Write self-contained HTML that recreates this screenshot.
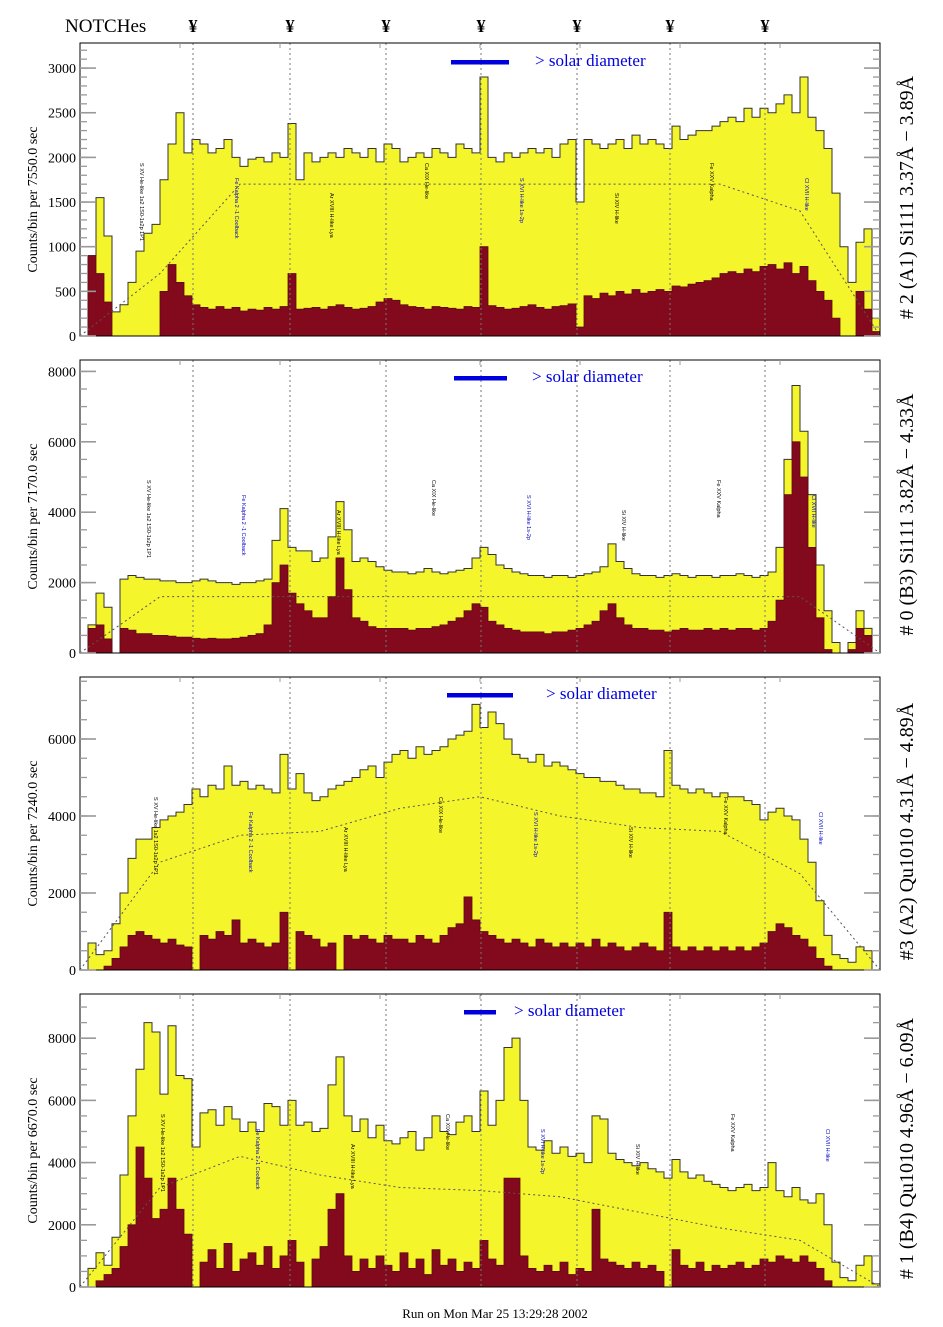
<!DOCTYPE html>
<html><head><meta charset="utf-8">
<style>
html,body{margin:0;padding:0;background:#fff;}
svg{display:block;font-family:"Liberation Serif",serif;}
</style></head>
<body>
<svg id="chart" width="943" height="1327" viewBox="0 0 943 1327" xmlns="http://www.w3.org/2000/svg">
<text x="65" y="32" font-size="19">NOTCHes</text>
<g id="notchMarks"></g>
<g id="panels"></g>
<text x="495" y="1318" font-size="13" text-anchor="middle">Run on Mon Mar 25 13:29:28 2002</text>
</svg>
<script>
// ---- data ----
const notchX = [193, 290, 386, 481, 577, 670, 765]; // notch positions
const p1Total = [0,900,1550,1120,270,350,600,950,1150,1250,1750,2150,2500,2050,2200,2150,2050,2100,2200,2000,1900,1980,2000,1950,2050,2000,2380,1750,2050,1950,2000,2050,2000,2100,2050,2000,2100,1950,2150,2100,1950,2000,2050,2000,2100,2050,2000,2150,2100,2050,2900,2000,1950,2050,2000,2050,2100,2050,2100,2000,2150,2200,1500,2200,2150,2100,2150,2200,2100,2250,2150,2200,2150,2100,2350,2200,2250,2300,2300,2350,2400,2450,2400,2550,2450,2550,2500,2600,2700,2500,2900,2450,2300,2100,1600,1000,600,1050,1200,200];
const p1Line = [0,900,700,380,0,0,0,0,0,0,500,800,600,450,350,320,300,330,300,320,280,300,290,320,300,330,700,300,310,320,300,330,350,320,300,310,330,380,420,400,350,330,320,300,330,320,310,300,330,320,1000,340,320,300,310,330,350,320,300,330,340,360,100,450,420,480,450,500,470,520,480,500,520,500,560,550,580,600,620,650,700,720,700,750,720,780,800,750,820,700,780,620,500,400,200,0,0,500,300,50];
const p2Total = [0,800,1700,1300,0,2100,2200,2150,2100,2100,2050,2050,2000,2000,2050,2100,2050,2000,2000,1950,2000,2000,2050,2100,3200,4100,3000,2900,2900,2600,2700,3300,4300,3500,2600,2700,2600,2450,2350,2300,2300,2250,2300,2400,2300,2250,2300,2350,2400,2700,3000,2800,2500,2400,2300,2250,2200,2200,2150,2200,2200,2150,2200,2250,2300,2450,3100,2600,2400,2250,2200,2200,2150,2200,2250,2200,2150,2200,2200,2150,2200,2200,2250,2200,2150,2200,2300,3000,5500,7600,6300,4500,2500,1200,300,0,300,1200,700,0];
const p2Line = [0,700,800,400,0,700,650,550,550,500,500,480,450,450,420,400,420,400,400,420,450,500,550,800,2000,2500,1700,1400,1200,1000,1000,1600,2700,1800,1000,900,750,700,700,700,700,650,700,700,750,800,900,1000,1200,1400,1300,900,800,700,650,600,600,600,550,600,600,650,700,800,900,1200,1400,1000,800,700,700,650,650,600,650,700,650,650,700,650,700,650,700,700,650,700,900,1500,4500,6000,5000,3000,1000,100,0,0,100,700,500,0];
const p3Total = [0,700,400,500,1200,2000,2900,3400,3400,3700,3900,4000,4100,4300,4700,4500,4800,4700,5300,4800,4900,4700,4800,4700,4600,5600,4700,5100,4600,4400,4500,4700,4800,4900,5000,5200,5300,5000,5400,5600,5700,5500,5800,5600,5700,5800,6000,6100,6200,6900,6300,6700,6400,6000,5600,5500,5400,5600,5300,5400,5300,5200,5100,5000,5000,4900,4900,4800,4700,4700,4600,4600,4500,5700,4800,4700,4600,4700,4600,4500,4600,4500,4500,4400,4300,3900,4100,4200,4000,3900,3400,2800,1800,900,400,300,200,600,500,0];
const p3Line = [0,0,0,100,300,600,900,1000,900,800,700,800,650,600,0,900,800,1000,900,1300,700,800,700,600,700,1500,0,1000,900,800,600,700,0,900,800,900,800,700,900,800,800,700,900,800,700,900,1100,1200,1900,1300,1000,900,800,700,800,700,600,800,700,600,700,600,700,600,800,600,700,600,500,600,700,600,500,1500,600,500,600,500,600,500,600,500,600,500,600,700,1000,1200,1100,900,800,600,300,100,0,0,0,0,0,0];
const p4Total = [0,600,1100,700,1600,3600,5500,7000,8500,8200,6200,8400,6800,6700,4500,5600,5700,5200,5800,5400,5000,5300,5000,5900,5800,5200,6000,5200,5300,5000,5100,6500,7400,5500,5000,5400,4800,5200,4700,4600,4800,5000,4400,4800,5500,5000,4900,5300,5500,5000,6300,5200,6000,7700,8000,6000,4500,4400,4700,4300,4500,4200,4300,4000,5500,5400,4300,4100,4000,3900,4000,3800,3700,3500,4100,3700,3500,3600,3400,3300,3200,3100,3200,3300,3100,3200,4000,3100,2900,3200,2800,2700,3000,2000,800,300,200,700,1000,100];
const p4Line = [0,0,200,400,600,1300,2000,4500,3500,2200,2500,3500,2500,1700,0,800,1200,600,1400,500,900,1100,700,1300,600,1000,1500,800,0,900,1300,2500,3000,1000,500,900,600,1000,700,500,1100,600,900,400,1200,700,900,500,800,600,1500,900,700,3500,3500,1000,600,500,700,500,800,400,600,500,2500,900,800,700,600,800,600,700,500,0,1200,700,600,800,500,700,600,700,800,600,700,900,800,1000,900,800,1000,800,600,200,0,0,0,0,0,0];
const p1Smooth = [0,700,1700,1700,1700,1700,1700,1700,1700,1400,0];
const p2Smooth = [0,1600,1600,1600,1600,1600,1600,1600,1600,1600,0];
const p3Smooth = [0,2800,3500,3600,4200,4500,4000,3700,3600,2500,0];
const p4Smooth = [0,3200,4200,3600,3200,3100,2900,2400,1900,1500,0];
const p1Ticks = [0,500,1000,1500,2000,2500,3000];
const p2Ticks = [0,2000,4000,6000,8000];
const p3Ticks = [0,2000,4000,6000];
const p4Ticks = [0,2000,4000,6000,8000];
const yTitles = ["Counts/bin per   7550.0 sec","Counts/bin per   7170.0 sec","Counts/bin per   7240.0 sec","Counts/bin per   6670.0 sec"];
const rTitles = ["# 2 (A1) Si111  3.37Å − 3.89Å","# 0 (B3) Si111  3.82Å − 4.33Å","#3 (A2) Qu1010  4.31Å − 4.89Å","# 1 (B4) Qu1010 4.96Å − 6.09Å"];
const lineLabels = ["S XV He-like 1s2 1S0-1s2p 1P1","Fe Kalpha 2 -1 Coolback","Ar XVIII H-like Lya","Ca XIX He-like","S XVI H-like 1s-2p","Si XIV H-like","Fe XXV Kalpha","Cl XVII H-like"];

// ---- layout ----
const NS="http://www.w3.org/2000/svg";
const X0=80, X1=880, NB=100;
const panels=[
 {top:43,bot:336,ymax:3281,tot:p1Total,ln:p1Line,sm:p1Smooth,ticks:p1Ticks,minor:100,bar:[451,509,62],txt:535},
 {top:360,bot:653,ymax:8324,tot:p2Total,ln:p2Line,sm:p2Smooth,ticks:p2Ticks,minor:500,bar:[454,507,378],txt:532},
 {top:677,bot:970,ymax:7610,tot:p3Total,ln:p3Line,sm:p3Smooth,ticks:p3Ticks,minor:500,bar:[447,513,695],txt:546},
 {top:994,bot:1287,ymax:9420,tot:p4Total,ln:p4Line,sm:p4Smooth,ticks:p4Ticks,minor:500,bar:[464,496,1012],txt:514}
];
function mk(tag,attrs,parent){const e=document.createElementNS(NS,tag);for(const k in attrs)e.setAttribute(k,attrs[k]);if(parent)parent.appendChild(e);return e;}
const xs=i=>X0+(X1-X0)*i/NB;

const nm=document.getElementById('notchMarks');
notchX.forEach(x=>{
 const t=mk('text',{x:x,y:32,'font-size':18,'text-anchor':'middle','font-weight':'bold'},nm);
 
 
 t.textContent='¥';
});

const root=document.getElementById('panels');
panels.forEach((p,pi)=>{
 const ys=v=>p.bot-(p.bot-p.top)*Math.min(v,p.ymax)/p.ymax;
 const g=mk('g',{},root);
 
 
 mk('defs',{},g).innerHTML=`<clipPath id="c${pi}"><rect x="${X0}" y="${p.top}" width="${X1-X0}" height="${p.bot-p.top}"/></clipPath>`;
 const stepPath=arr=>{let d=`M${X0},${p.bot}`;arr.forEach((v,i)=>{d+=` L${xs(i)},${ys(v)} L${xs(i+1)},${ys(v)}`;});return d+` L${X1},${p.bot} Z`;};
 const cg=mk('g',{'clip-path':`url(#c${pi})`},g);
 const a=mk('path',{d:stepPath(p.tot),fill:'#f5f52c',stroke:'#333','stroke-width':1},cg);
 
 
 const b=mk('path',{d:stepPath(p.ln),fill:'#820a1c',stroke:'#5a0a10','stroke-width':0.8},cg);
 
 
 let sd='';p.sm.forEach((v,k)=>{sd+=(k?' L':'M')+xs(k*10)+','+ys(v);});
 const s=mk('path',{d:sd,fill:'none',stroke:'#555','stroke-width':1,'stroke-dasharray':'2,3'},cg);
 
 
 notchX.forEach(x=>{
  const l=mk('line',{x1:x,x2:x,y1:p.top,y2:p.bot,stroke:'#777','stroke-width':1,'stroke-dasharray':'2,3'},g);
  
  
 });
 lineLabels.forEach((txt,k)=>{
  const x=X0+60+k*95+pi*7, y=p.top+120+(k%3)*15;
  const t=mk('text',{x:0,y:0,'font-size':5.5,fill:(k%3==1)?'#0000cc':'#000',transform:`translate(${x},${y}) rotate(90)`,'font-family':'Liberation Sans, sans-serif'},g);
  
  
  t.textContent=txt;
 });
 const fr=mk('rect',{x:X0,y:p.top,width:X1-X0,height:p.bot-p.top,fill:'none',stroke:'#000','stroke-width':1},g);
 
 
 for(let v=0;v<=p.ymax;v+=p.minor){
  const y=ys(v);
  mk('line',{x1:X0,x2:X0+7,y1:y,y2:y,stroke:'#999','stroke-width':1.3},g);
  mk('line',{x1:X1,x2:X1-7,y1:y,y2:y,stroke:'#999','stroke-width':1.3},g);
 }
 for(let i=1;i<8;i++){const x=X0+i*100;mk('line',{x1:x,x2:x,y1:p.top,y2:p.top+5,stroke:'#999'},g);}
 p.ticks.forEach(v=>{
  const y=ys(v);
  mk('line',{x1:X0,x2:X0+16,y1:y,y2:y,stroke:'#999','stroke-width':1.6},g);
  mk('line',{x1:X1,x2:X1-16,y1:y,y2:y,stroke:'#999','stroke-width':1.6},g);
  const t=mk('text',{x:X0-4,y:y+5,'font-size':14,'text-anchor':'end'},g);
  
  
  t.textContent=v;
 });
 const cy=(p.top+p.bot)/2+10;
 const yt=mk('text',{x:0,y:0,'font-size':14,'text-anchor':'middle',transform:`translate(37,${cy}) rotate(-90)`,'xml:space':'preserve'},g);
 
 
 yt.textContent=yTitles[pi];
 const rt=mk('text',{x:0,y:0,'font-size':20,'text-anchor':'middle',transform:`translate(913,${(p.top+p.bot)/2+8}) rotate(-90)`,'xml:space':'preserve'},g);
 
 
 rt.textContent=rTitles[pi];
 const br=mk('rect',{x:p.bar[0],y:p.bar[2]-2,width:p.bar[1]-p.bar[0],height:4.5,fill:'#0000dd'},g);
 
 
 const st=mk('text',{x:p.txt,y:p.bar[2]+4,'font-size':17,fill:'#0000dd'},g);
 
 
 st.textContent='> solar diameter';
});
</script>
</body></html>
